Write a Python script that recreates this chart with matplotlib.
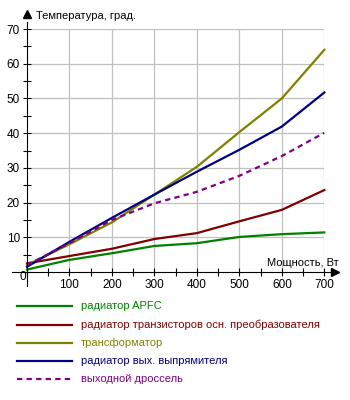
import matplotlib
matplotlib.use("Agg")
import matplotlib.pyplot as plt
from matplotlib.lines import Line2D
from matplotlib.ticker import MultipleLocator

plt.rcParams['font.family'] = ['Liberation Sans', 'DejaVu Sans']

power = [0, 100, 200, 300, 400, 500, 600, 700]
apfc = [0.7, 3.5, 5.4, 7.5, 8.3, 10.1, 10.9, 11.4]
transistors = [2.5, 4.6, 6.7, 9.5, 11.2, 14.6, 17.9, 23.6]
transformer = [2.0, 8.0, 14.3, 22.3, 30.3, 40.3, 50.0, 64.0]
rectifier = [1.5, 8.7, 15.6, 22.3, 28.9, 35.2, 41.9, 51.7]
choke = [2.0, 8.3, 15.0, 19.8, 23.1, 27.7, 33.4, 40.1]

labels = ["радиатор APFC",
          "радиатор транзисторов осн. преобразователя",
          "трансформатор",
          "радиатор вых. выпрямителя",
          "выходной дроссель"]
colors = ["#008000", "#800000", "#808000", "#000080", "#800080"]
series = [apfc, transistors, transformer, rectifier, choke]
styles = ["-", "-", "-", "-", (0, (2.4, 1.9))]

W, H = 350, 400
fig = plt.figure(figsize=(W / 100, H / 100), dpi=100)
x0, x1 = 27, 324.3
y0, y1 = 272, 29
ax = fig.add_axes([x0 / W, 1 - y0 / H, (x1 - x0) / W, (y0 - y1) / H])
ax.set_xlim(0, 700)
ax.set_ylim(0, 70)
for s in ax.spines.values():
    s.set_visible(False)

# grid
for gx in range(100, 701, 100):
    ax.axvline(gx, color="#c0c0c0", lw=0.9, zorder=0)
for gy in range(10, 71, 10):
    ax.axhline(gy, color="#c0c0c0", lw=0.9, zorder=0)

# axis lines with arrows
ax.plot([-35, 722], [0, 0], color="black", lw=0.8, clip_on=False, zorder=3)
ax.plot([0, 0], [-4, 72], color="black", lw=0.8, clip_on=False, zorder=3)
ax.plot([725], [0], marker=">", color="black", ms=6, clip_on=False, zorder=3)
ax.plot([0], [74.2], marker="^", color="black", ms=6, clip_on=False, zorder=3)

ax.xaxis.set_major_locator(MultipleLocator(100))
ax.xaxis.set_minor_locator(MultipleLocator(50))
ax.yaxis.set_major_locator(MultipleLocator(10))
ax.yaxis.set_minor_locator(MultipleLocator(5))
ax.tick_params(which="both", direction="inout", length=6, width=0.8,
               labelsize=8.5, pad=2)
ax.set_xticklabels(["" if v == 0 else f"{int(v)}" for v in ax.get_xticks()])
ax.set_yticklabels(["" if v == 0 else f"{int(v)}" for v in ax.get_yticks()])
ax.set_xlim(0, 700)
ax.set_ylim(0, 70)
fig.text(23 / W, 1 - 277 / H, "0", fontsize=8.5, ha="center", va="center")

for ys, c, ls in zip(series, colors, styles):
    ax.plot(power, ys, color=c, lw=1.6, linestyle=ls, clip_on=False, zorder=2)

fig.text(36 / W, 1 - 16 / H, "Температура, град.", fontsize=8, ha="left", va="center")
fig.text(339 / W, 1 - 263 / H, "Мощность, Вт", fontsize=8, ha="right", va="center")

# legend
ly = [306, 324.5, 342.5, 360.5, 379]
for yy, lab, c, ls in zip(ly, labels, colors, styles):
    fig.add_artist(Line2D([17 / W, 72 / W], [1 - yy / H, 1 - yy / H],
                          transform=fig.transFigure, color=c, lw=1.6, linestyle=ls))
    fig.text(81 / W, 1 - yy / H, lab, color=c, fontsize=8, ha="left", va="center")

fig.savefig("out.png", dpi=100, facecolor="white")
